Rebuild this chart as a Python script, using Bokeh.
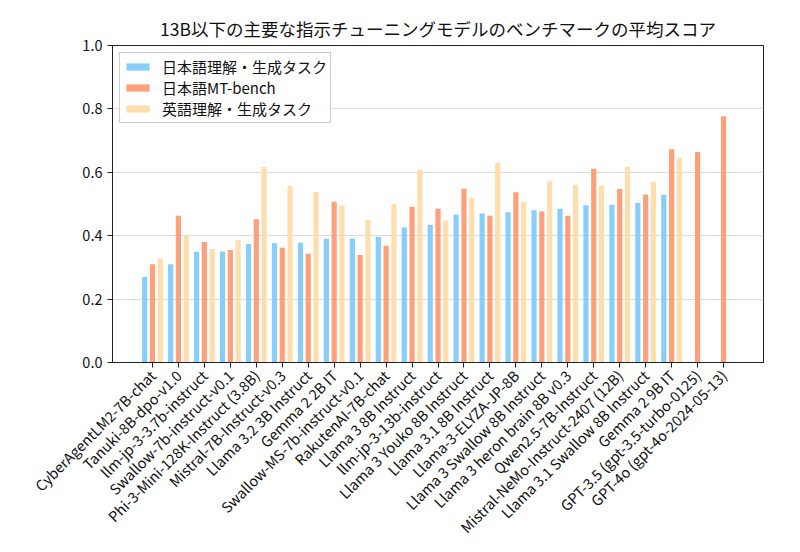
import math
from bokeh.plotting import figure
from bokeh.models import ColumnDataSource, Legend, LegendItem, NumeralTickFormatter, FixedTicker, Range1d
from bokeh.embed import file_html
from bokeh.resources import INLINE

nan = float("nan")

categories = [
    "CyberAgentLM2-7B-chat",
    "Tanuki-8B-dpo-v1.0",
    "llm-jp-3-3.7b-instruct",
    "Swallow-7b-instruct-v0.1",
    "Phi-3-Mini-128K-Instruct (3.8B)",
    "Mistral-7B-Instruct-v0.3",
    "Llama 3.2 3B Instruct",
    "Gemma 2 2B IT",
    "Swallow-MS-7b-instruct-v0.1",
    "RakutenAI-7B-chat",
    "Llama 3 8B Instruct",
    "llm-jp-3-13b-instruct",
    "Llama 3 Youko 8B Instruct",
    "Llama 3.1 8B Instruct",
    "Llama-3-ELYZA-JP-8B",
    "Llama 3 Swallow 8B Instruct",
    "Llama 3 heron brain 8B v0.3",
    "Qwen2.5-7B-Instruct",
    "Mistral-NeMo-Instruct-2407 (12B)",
    "Llama 3.1 Swallow 8B Instruct",
    "Gemma 2 9B IT",
    "GPT-3.5 (gpt-3.5-turbo-0125)",
    "GPT-4o (gpt-4o-2024-05-13)",
]

ja_understanding = [0.270, 0.310, 0.349, 0.350, 0.374, 0.376, 0.378, 0.390, 0.391, 0.396,
                    0.426, 0.434, 0.467, 0.470, 0.474, 0.480, 0.485, 0.496, 0.498, 0.503,
                    0.528, nan, nan]
ja_mtbench = [0.310, 0.463, 0.380, 0.355, 0.452, 0.362, 0.343, 0.507, 0.339, 0.368,
              0.491, 0.485, 0.548, 0.463, 0.537, 0.476, 0.463, 0.611, 0.547, 0.530,
              0.673, 0.664, 0.777]
en_understanding = [0.328, 0.401, 0.358, 0.386, 0.617, 0.557, 0.538, 0.495, 0.450, 0.499,
                    0.608, 0.448, 0.519, 0.630, 0.506, 0.572, 0.561, 0.558, 0.617, 0.570,
                    0.646, nan, nan]

series_names = ["日本語理解・生成タスク", "日本語MT-bench", "英語理解・生成タスク"]
colors = ["#87CEFA", "#FFA07A", "#FFDEAD"]

FONT = "Noto Sans CJK JP"
idx = list(range(len(categories)))

p = figure(width=800, height=552, output_backend="svg", toolbar_location=None,
           x_range=Range1d(-1.54, len(categories) - 1 + 1.54), y_range=Range1d(0, 1.0),
           min_border_left=112, min_border_right=37, min_border_top=45, min_border_bottom=190)

offsets = [-0.3, 0.0, 0.3]
renderers = []
for vals, off, col in zip([ja_understanding, ja_mtbench, en_understanding], offsets, colors):
    src = ColumnDataSource(dict(x=[i + off for i in idx], top=vals))
    r = p.vbar(x="x", top="top", width=0.2, bottom=0, source=src,
               fill_color=col, line_color=None)
    renderers.append(r)

p.title.text = "13B以下の主要な指示チューニングモデルのベンチマークの平均スコア"
p.title.text_font = FONT
p.title.text_font_size = "17.5px"
p.title.text_font_style = "normal"
p.title.align = "center"
p.title.text_color = "#111111"
p.title.offset = 0
p.title.standoff = 9

p.xaxis.ticker = FixedTicker(ticks=idx)
p.xaxis.major_label_overrides = {i: c for i, c in enumerate(categories)}
p.xaxis.major_label_orientation = math.pi / 4
p.yaxis.ticker = FixedTicker(ticks=[0, 0.2, 0.4, 0.6, 0.8, 1.0])
p.yaxis.formatter = NumeralTickFormatter(format="0.0")

for ax in (p.xaxis[0], p.yaxis[0]):
    ax.major_label_text_font = FONT
    ax.major_label_text_font_size = "14.5px"
    ax.major_label_text_color = "#111111"
    ax.major_tick_in = 0
    ax.major_tick_out = 5
    ax.minor_tick_line_color = None
    ax.axis_line_color = "#222222"
    ax.major_tick_line_color = "#222222"

p.xgrid.grid_line_color = None
p.ygrid.grid_line_color = "#dddddd"
p.ygrid.grid_line_width = 1
p.outline_line_color = "#222222"
p.outline_line_width = 1
p.background_fill_color = "white"
p.border_fill_color = "white"

legend = Legend(items=[LegendItem(label=n, renderers=[r]) for n, r in zip(series_names, renderers)],
                location="top_left")
legend.label_text_font = FONT
legend.label_text_font_size = "15px"
legend.label_text_color = "#111111"
legend.label_height = 18
legend.glyph_width = 29
legend.glyph_height = 9
legend.spacing = 0
legend.padding = 3
legend.margin = 7
legend.label_standoff = 10
legend.border_line_color = "#cccccc"
legend.border_line_alpha = 1.0
legend.background_fill_alpha = 0.85
p.add_layout(legend)

open("out.html", "w").write(file_html(p, INLINE))
